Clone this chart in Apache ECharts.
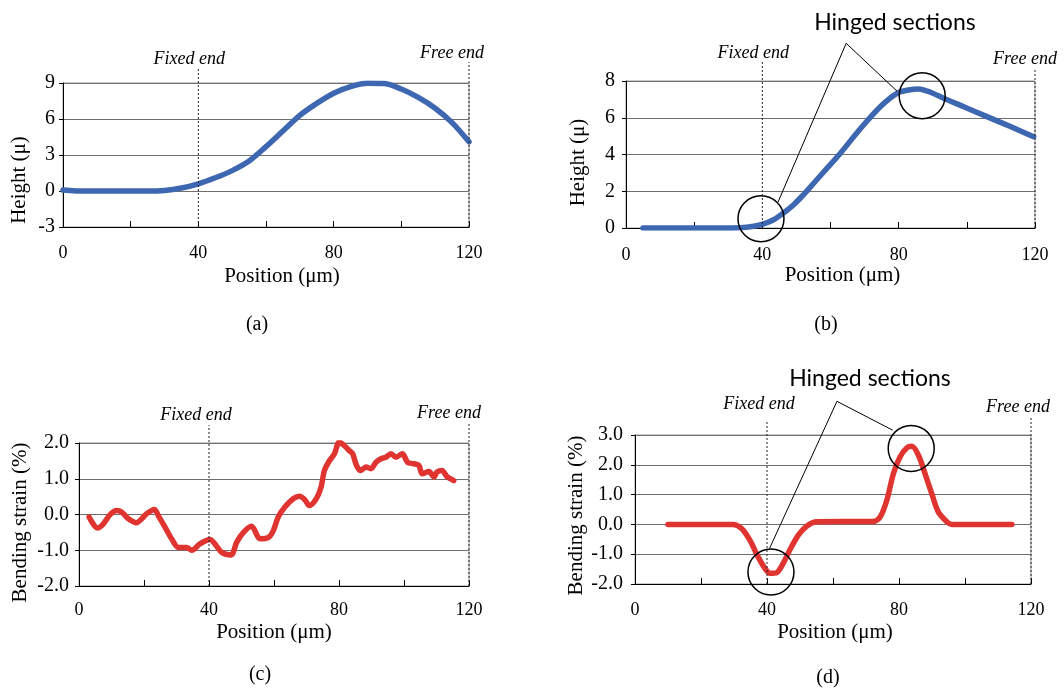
<!DOCTYPE html>
<html>
<head>
<meta charset="utf-8">
<script src="https://cdn.jsdelivr.net/npm/echarts@6/dist/echarts.min.js"></script>
<style>
  html, body { margin: 0; padding: 0; background: #fff; }
  #main { width: 1064px; height: 688px; }
</style>
</head>
<body>
<div id="main"></div>
<script>
// (a) height profile, measured
var posA = [0, 2, 5, 10, 15, 20, 25, 30, 35, 40, 45, 50, 55, 60, 65, 70, 75, 80, 85, 90, 95, 100, 105, 110, 115, 120];
var heightA = [0.08, 0.05, 0, 0, 0, 0, 0, 0.05, 0.25, 0.6, 1.1, 1.7, 2.5, 3.7, 5.0, 6.3, 7.3, 8.15, 8.7, 8.98, 8.95, 8.5, 7.8, 6.9, 5.7, 4.1];

// (b) height profile, model
var posB = [5, 20, 33.5, 37.5, 40.4, 43.3, 46.2, 49.2, 52.1, 55, 58, 62.9, 68.7, 74.6, 79.5, 82.9, 85.9, 89.3, 93.2, 99.1, 105.9, 112.8, 119.6];
var heightB = [0, 0, 0.02, 0.1, 0.23, 0.45, 0.82, 1.27, 1.82, 2.42, 3.05, 4.07, 5.39, 6.6, 7.33, 7.51, 7.57, 7.39, 7.06, 6.6, 6.06, 5.52, 4.97];

// (c) bending strain, measured
var posC = [3.1, 5.7, 7.5, 9.5, 11.6, 13.1, 15.2, 17.7, 19.3, 20.8, 23.2, 24.4, 26.5, 28.5, 30.6, 33.1, 34.7, 37.2, 40.3, 41.8, 43.9, 46.8, 48.5, 50.6, 53.1, 55.7, 58.3, 59.8, 61.3, 63.3, 65.9, 67.9, 69.4, 70.9, 73.0, 74.5, 75.5, 77.1, 78.6, 80.1, 81.6, 83.1, 84.2, 85.4, 86.7, 88.3, 89.8, 91.4, 92.9, 94.4, 96.0, 97.5, 99.5, 101.1, 103.1, 104.6, 105.6, 107.7, 109.2, 110.2, 111.7, 113.3, 115.3];
var strainC = [-0.07, -0.38, -0.26, -0.01, 0.11, 0.07, -0.12, -0.23, -0.12, 0.02, 0.14, -0.03, -0.36, -0.68, -0.92, -0.92, -1.0, -0.82, -0.7, -0.82, -1.06, -1.13, -0.78, -0.5, -0.33, -0.68, -0.64, -0.45, -0.07, 0.2, 0.44, 0.51, 0.42, 0.25, 0.44, 0.77, 1.23, 1.51, 1.7, 2.03, 1.93, 1.79, 1.7, 1.37, 1.23, 1.33, 1.28, 1.46, 1.56, 1.6, 1.7, 1.6, 1.7, 1.46, 1.42, 1.37, 1.14, 1.2, 1.05, 1.19, 1.23, 1.05, 0.95];

// (d) bending strain, model
var posD = [10, 29.7, 32.3, 34.8, 37.3, 39.4, 40.9, 42.9, 44.9, 46.9, 49.5, 52.0, 55.1, 72.2, 74.3, 76.3, 78.3, 80.3, 82.4, 83.9, 85.9, 87.9, 89.9, 91.9, 94.5, 96.0, 114.2];
var strainD = [0, 0, -0.14, -0.53, -1.09, -1.48, -1.64, -1.62, -1.31, -0.86, -0.36, -0.06, 0.09, 0.1, 0.25, 0.81, 1.7, 2.26, 2.57, 2.62, 2.32, 1.7, 1.04, 0.42, 0.09, 0, 0];

var xTicks = [0, 40, 80, 120];
var panelLabels = ['(a)', '(b)', '(c)', '(d)'];
var yNames = ['Height (\u03bc)', 'Height (\u03bc)', 'Bending strain (%)', 'Bending strain (%)'];
var xName = 'Position (\u03bcm)';

function zip(xs, ys) {
  return xs.map(function (x, i) { return [x, ys[i]]; });
}

var serif = '"Liberation Serif", "Times New Roman", serif';
var BLUE = '#3e67b1';
var RED = '#df3430';

var grids = [
  { left: 63, right: 595, top: 83, height: 144, show: true, borderColor: '#999', borderWidth: 1 },
  { left: 626, right: 29, top: 81, height: 147, show: true, borderColor: '#999', borderWidth: 1 },
  { left: 79, right: 595, top: 443, height: 143, show: true, borderColor: '#999', borderWidth: 1 },
  { left: 635, right: 33, top: 435, height: 149, show: true, borderColor: '#999', borderWidth: 1 }
];

var yCfg = [
  { min: -3, max: 9, interval: 3, dec: 0, margin: 8, gap: 33, pad: [0, 50, 0, 0] },
  { min: 0, max: 8, interval: 2, dec: 0, margin: 11, gap: 37, pad: [0, 16, 0, 0] },
  { min: -2, max: 2, interval: 1, dec: 1, margin: 10, gap: 48, pad: [0, 16, 0, 0] },
  { min: -2, max: 3, interval: 1, dec: 1, margin: 12, gap: 46, pad: [0, 12, 0, 0] }
];
var xCfg = [
  { margin: 17, gap: 39, pad: [0, 0, 0, 32] },
  { margin: 18, gap: 36, pad: [0, 0, 0, 24] },
  { margin: 15, gap: 36, pad: [0, 0, 0, 0] },
  { margin: 17, gap: 38, pad: [0, 0, 0, 4] }
];

var xAxes = xCfg.map(function (c, i) {
  return {
    type: 'value', gridIndex: i, min: 0, max: 120, interval: 20,
    name: xName, nameLocation: 'middle', nameGap: c.gap,
    nameTextStyle: { fontFamily: serif, fontSize: 21, color: '#000', padding: c.pad },
    axisLine: { onZero: false, lineStyle: { color: '#000', width: 1 } },
    axisTick: { inside: true, length: 6, lineStyle: { color: '#000' } },
    axisLabel: {
      fontFamily: serif, fontSize: 18, color: '#000', margin: c.margin,
      formatter: function (v) { return xTicks.indexOf(v) >= 0 ? String(v) : ''; }
    },
    splitLine: { show: false }
  };
});

var yAxes = yCfg.map(function (c, i) {
  return {
    type: 'value', gridIndex: i, min: c.min, max: c.max, interval: c.interval,
    name: yNames[i], nameLocation: 'middle', nameGap: c.gap,
    nameTextStyle: { fontFamily: serif, fontSize: 21, color: '#000', padding: c.pad },
    axisLine: { show: true, lineStyle: { color: '#000', width: 1 } },
    axisTick: { show: true, length: 4, lineStyle: { color: '#000' } },
    axisLabel: {
      fontFamily: serif, fontSize: 20, color: '#000', margin: c.margin,
      formatter: function (v) { return v.toFixed(c.dec); }
    },
    splitLine: { show: true, lineStyle: { color: '#6e6e6e', width: 1 } }
  };
});

function lineSeries(i, data, color) {
  return {
    type: 'line', xAxisIndex: i, yAxisIndex: i, data: data,
    showSymbol: false, symbol: 'none', smooth: 0.3,
    lineStyle: { color: color, width: 5.5, cap: 'round', join: 'round' },
    z: 3, animation: false
  };
}

var option = {
  animation: false,
  backgroundColor: '#fff',
  grid: grids,
  xAxis: xAxes,
  yAxis: yAxes,
  series: [
    lineSeries(0, zip(posA, heightA), BLUE),
    lineSeries(1, zip(posB, heightB), BLUE),
    lineSeries(2, zip(posC, strainC), RED),
    lineSeries(3, zip(posD, strainD), RED)
  ]
};

var chart = echarts.init(document.getElementById('main'));
chart.setOption(option);

function px(i, x, y) {
  return chart.convertToPixel({ gridIndex: i }, [x, y]);
}

// dotted "Fixed end" / "Free end" markers: [line top above plot, text dx, text dy]
var endMarks = [
  { fixed: [15, -9, 24], free: [21, -17, 30] },
  { fixed: [19, -9, 28], free: [13, -10, 22] },
  { fixed: [18, -13, 28], free: [20, -20, 30] },
  { fixed: [15, -8, 31], free: [17, -13, 28] }
];

var elements = [];
endMarks.forEach(function (m, i) {
  var ymin = yCfg[i].min, ymax = yCfg[i].max;
  [[40, m.fixed, 'Fixed end'], [120, m.free, 'Free end']].forEach(function (e) {
    var bottom = px(i, e[0], ymin);
    var top = px(i, e[0], ymax);
    elements.push({
      type: 'line', z: 5,
      shape: { x1: bottom[0], y1: bottom[1], x2: bottom[0], y2: top[1] - e[1][0] },
      style: { stroke: '#222', lineWidth: 1, lineDash: [2, 2] }
    });
    elements.push({
      type: 'text', z: 6,
      x: bottom[0] + e[1][1], y: top[1] - e[1][2],
      style: {
        text: e[2], fontFamily: serif, fontStyle: 'italic', fontSize: 18,
        fill: '#000', align: 'center', verticalAlign: 'middle'
      }
    });
  });
});

// panel captions
var captionPos = [[257, 325], [826, 325], [260, 675], [828, 678]];
panelLabels.forEach(function (t, i) {
  elements.push({
    type: 'text', x: captionPos[i][0], y: captionPos[i][1],
    style: { text: t, fontFamily: serif, fontSize: 20, fill: '#000', align: 'center', verticalAlign: 'middle' }
  });
});

// "Hinged sections" call-outs, in data units of each panel
var hinges = [
  { grid: 1, text: [78.9, 11.2], apex: [64.6, 10.05], ends: [[44.6, 1.41], [79.5, 7.45]], circles: [[39.6, 0.5], [86.9, 7.2]] },
  { grid: 3, text: [71.2, 4.9], apex: [61.2, 4.13], ends: [[40.8, -0.8], [78.1, 3.16]], circles: [[41.2, -1.6], [83.7, 2.55]] }
];
hinges.forEach(function (h) {
  var tp = px(h.grid, h.text[0], h.text[1]);
  var ap = px(h.grid, h.apex[0], h.apex[1]);
  elements.push({
    type: 'text', x: tp[0], y: tp[1], z: 6,
    style: { text: 'Hinged sections', fontFamily: 'Lato', fontSize: 23, fill: '#000', align: 'center', verticalAlign: 'middle' }
  });
  h.ends.forEach(function (e) {
    var ep = px(h.grid, e[0], e[1]);
    elements.push({
      type: 'line', z: 6,
      shape: { x1: ap[0], y1: ap[1], x2: ep[0], y2: ep[1] },
      style: { stroke: '#000', lineWidth: 1 }
    });
  });
  h.circles.forEach(function (c) {
    var cp = px(h.grid, c[0], c[1]);
    elements.push({
      type: 'circle', z: 6,
      shape: { cx: cp[0], cy: cp[1], r: 23 },
      style: { fill: 'none', stroke: '#000', lineWidth: 1.5 }
    });
  });
});

chart.setOption({ graphic: elements });
</script>
</body>
</html>
